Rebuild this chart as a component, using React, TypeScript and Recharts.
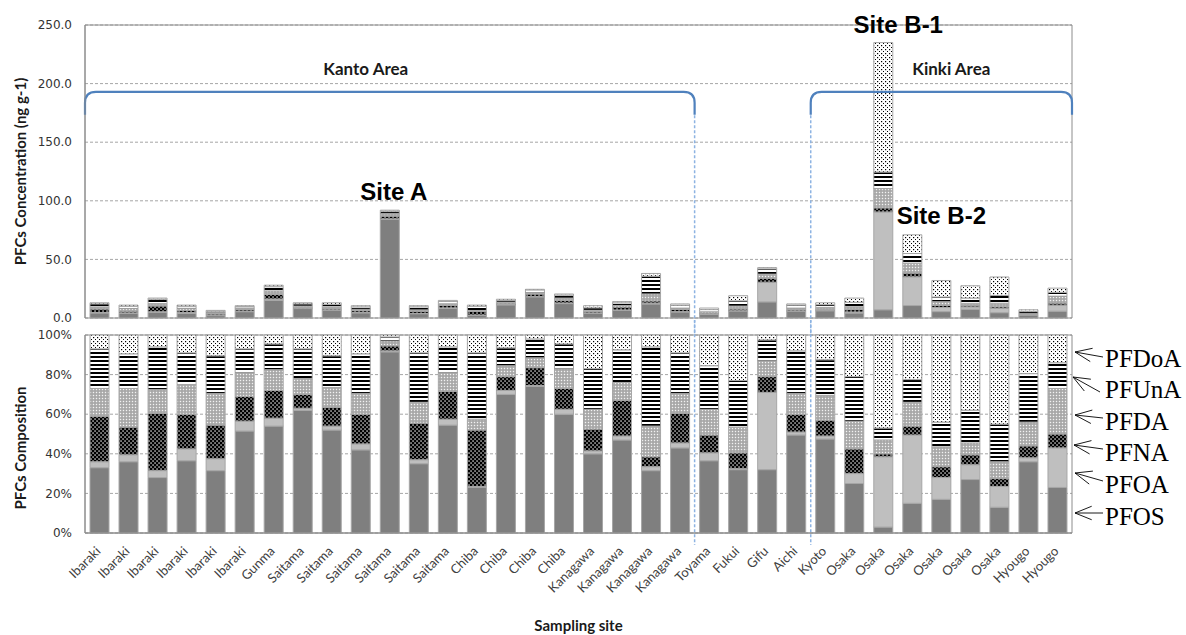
import React from "react";
import {
  BarChart,
  Bar,
  XAxis,
  YAxis,
  CartesianGrid,
  ReferenceLine,
  ReferenceArea,
  LabelList,
} from "recharts";

// sampling sites, left to right
const sites = [
  "Ibaraki", "Ibaraki", "Ibaraki", "Ibaraki", "Ibaraki", "Ibaraki",
  "Gunma",
  "Saitama", "Saitama", "Saitama", "Saitama", "Saitama", "Saitama",
  "Chiba", "Chiba", "Chiba", "Chiba",
  "Kanagawa", "Kanagawa", "Kanagawa", "Kanagawa",
  "Toyama", "Fukui", "Gifu", "Aichi", "Kyoto",
  "Osaka", "Osaka", "Osaka", "Osaka", "Osaka", "Osaka",
  "Hyougo", "Hyougo",
];

// total PFCs concentration per site (ng g-1)
const totalConc = [
  13, 11, 17, 11, 6.5, 10.5, 28, 13, 13, 10.5, 92, 10.5, 15, 11, 16, 24.5, 20.5,
  10.5, 14, 38, 12, 8.5, 19, 43, 12, 13, 17, 235, 71, 32, 27.5, 35, 7, 25.5,
];

// composition of each site (% of total)
const pfosPct = [
  33, 36, 28, 36.5, 31.5, 51.5, 54, 62, 52, 42, 91.5, 35, 54.5, 23, 70, 74, 60,
  40, 47, 31.5, 43, 36.5, 32, 32, 49.5, 47.5, 25, 3, 15, 17, 27, 13, 36, 23,
];
const pfoaPct = [
  3, 3.5, 3.5, 6, 6, 5, 4, 1, 2, 3, 0.5, 2, 3, 0.5, 2, 0.5, 2.5,
  1.5, 2, 2, 2.5, 4, 0.5, 39, 1.5, 1.5, 5, 35.5, 34.5, 11, 7.5, 10.5, 2, 20,
];
const pfnaPct = [
  23, 14, 29, 17.5, 17, 12.5, 14, 7, 9.5, 15, 2.5, 18.5, 14, 28.5, 7, 9, 10.5,
  11, 18, 5, 15, 9, 8, 8, 9, 8, 12.5, 1.5, 4.5, 5.5, 5, 4, 6, 7,
];
const pfdaPct = [
  14, 19.5, 12, 15, 16, 12, 10.5, 8, 10, 10.5, 2.5, 10.5, 9.5, 5.5, 5.5, 5, 10,
  10, 9, 15.5, 10, 13, 13, 8, 10.5, 12.5, 14, 7, 12, 10, 6, 8.5, 12, 23,
];
const pfunaPct = [
  20, 17.5, 21.5, 16, 19, 12, 13, 15, 16, 20, 2, 25, 13, 33.5, 9, 9.5, 12.5,
  20.5, 16.5, 40, 20.5, 22, 23.5, 10.5, 21.5, 18, 22.5, 6, 11.5, 12.5, 16.5, 19, 24.5, 13,
];
const pfdoaPct = [
  7, 9.5, 6, 9, 10.5, 7, 4.5, 7, 10.5, 9.5, 1, 9, 6, 9, 6.5, 2, 4.5,
  17, 7.5, 6, 9, 15.5, 23, 2.5, 8, 12.5, 21, 47, 22.5, 44, 38, 45, 19.5, 14,
];

const siteTags: Record<number, string> = { 10: "Site A", 27: "Site B-1", 28: "Site B-2" };
// regional groups: first and last site index
const areas = [
  { title: "Kanto Area", first: 0, last: 20 },
  { title: "Kinki Area", first: 25, last: 33 },
];
// a dashed divider sits on the left edge of these sites
const dividers = [21, 25];
const concTicks = [0, 50, 100, 150, 200, 250];
const pctTicks = [0, 0.1, 0.2, 0.3, 0.4, 0.5, 0.6, 0.7, 0.8, 0.9, 1];

const components = [
  { key: "pfos", name: "PFOS", pct: pfosPct, fill: "#7f7f7f" },
  { key: "pfoa", name: "PFOA", pct: pfoaPct, fill: "#bfbfbf" },
  { key: "pfna", name: "PFNA", pct: pfnaPct, fill: "url(#pfnaFill)" },
  { key: "pfda", name: "PFDA", pct: pfdaPct, fill: "url(#pfdaFill)" },
  { key: "pfuna", name: "PFUnA", pct: pfunaPct, fill: "url(#pfunaFill)" },
  { key: "pfdoa", name: "PFDoA", pct: pfdoaPct, fill: "url(#pfdoaFill)" },
];

const concData = sites.map((site, i) => {
  const row: any = { id: i, site };
  components.forEach((c) => (row[c.key] = (totalConc[i] * c.pct[i]) / 100));
  return row;
});
const pctData = sites.map((site, i) => {
  const row: any = { id: i, site };
  components.forEach((c) => (row[c.key] = c.pct[i]));
  return row;
});

// --- styling ---
const W = 1186;
const PLOT_RIGHT = 114;
const AXIS_W = 85;
const frame = "#8c8c8c";
const gridColor = "#a6a6a6";
const sepColor = "#8db3e2";
const tickStyle = { fontFamily: "DejaVu Sans", fontSize: 12, fill: "#333" };
const titleFont = "Lato";
const tagOffsets: Record<string, [number, number]> = {
  "Site A": [4, -10],
  "Site B-1": [15, -10],
  "Site B-2": [29, -11],
};
const areaShift: Record<string, number> = { "Kanto Area": -24, "Kinki Area": 10 };

// arrows of the side key: tip and tail points, caption baseline
const keyMarks = [
  { key: "pfdoa", tip: [1075, 352], tail: [1103, 357], base: 367 },
  { key: "pfuna", tip: [1073, 377], tail: [1100, 392], base: 398 },
  { key: "pfda", tip: [1075, 415], tail: [1103, 418], base: 430 },
  { key: "pfna", tip: [1074, 445], tail: [1103, 449], base: 461 },
  { key: "pfoa", tip: [1075, 473], tail: [1103, 481], base: 493 },
  { key: "pfos", tip: [1075, 513], tail: [1103, 513], base: 525 },
];

function Patterns() {
  return (
    <svg width={0} height={0} style={{ position: "absolute" }}>
      <defs>
        <pattern id="pfnaFill" width={4} height={4} patternUnits="userSpaceOnUse">
          <rect width={4} height={4} fill="#000" />
          <rect x={0.4} y={0.4} width={1.3} height={1.3} fill="#fff" />
          <rect x={2.4} y={2.4} width={1.3} height={1.3} fill="#fff" />
        </pattern>
        <pattern id="pfdaFill" width={3} height={3} patternUnits="userSpaceOnUse">
          <rect width={3} height={3} fill="#b4b4b4" />
          <rect x={0} y={0} width={1} height={1} fill="#f2f2f2" />
          <rect x={1.5} y={1.5} width={1} height={1} fill="#858585" />
        </pattern>
        <pattern id="pfunaFill" width={4} height={4} patternUnits="userSpaceOnUse">
          <rect width={4} height={4} fill="#fff" />
          <rect y={0} width={4} height={2} fill="#000" />
        </pattern>
        <pattern id="pfdoaFill" width={4} height={4} patternUnits="userSpaceOnUse">
          <rect width={4} height={4} fill="#fff" />
          <rect x={1} y={1} width={1.2} height={1.2} fill="#000" />
          <rect x={3} y={3} width={1.2} height={1.2} fill="#000" />
        </pattern>
      </defs>
    </svg>
  );
}

const axisTitle = (text: string, shift: number) => (props: any) => {
  const vb = props.viewBox || { x: 0, y: 0, height: 0 };
  const cx = (vb.x || 0) + 20;
  const cy = vb.y + vb.height / 2 + shift;
  return (
    <text
      x={cx}
      y={cy}
      transform={`rotate(-90 ${cx} ${cy})`}
      textAnchor="middle"
      dominantBaseline="central"
      fontFamily={titleFont}
      fontWeight="bold"
      fontSize={15}
      fill="#1a1a1a"
    >
      {text}
    </text>
  );
};

// curly bracket spanning a regional group; the segment runs between the
// centres of its first and last site, so it is widened by half a band each side
const braceShape = (title: string, sitesSpanned: number) => (props: any) => {
  const { x1: c1, x2: c2, y1 } = props;
  const half = sitesSpanned > 0 ? (c2 - c1) / sitesSpanned / 2 : 0;
  const x1 = c1 - half;
  const x2 = c2 + half;
  const drop = 23;
  const r = 11;
  const d = `M${x1},${y1 + drop} L${x1},${y1 + r} Q${x1},${y1} ${x1 + r},${y1} L${x2 - r},${y1} Q${x2},${y1} ${x2},${y1 + r} L${x2},${y1 + drop}`;
  return (
    <g>
      <path d={d} fill="none" stroke="#4f81bd" strokeWidth={2.2} />
      <text
        x={(x1 + x2) / 2 + areaShift[title]}
        y={y1 - 17}
        textAnchor="middle"
        fontFamily={titleFont}
        fontWeight="bold"
        fontSize={17}
        fill="#1a1a1a"
      >
        {title}
      </text>
    </g>
  );
};

// divider line drawn half a band left of its site's centre
const dividerShape = (band: number) => (props: any) => {
  const { x1, y1, y2 } = props;
  const x = x1 - band / 2;
  return (
    <line
      x1={x}
      x2={x}
      y1={y1}
      y2={y2}
      stroke={sepColor}
      strokeWidth={1.5}
      strokeDasharray="3 2"
    />
  );
};

const siteTag = (props: any) => {
  const { x, y, width, index } = props;
  const tag = siteTags[index];
  if (!tag) return null;
  const [dx, dy] = tagOffsets[tag];
  return (
    <text
      x={x + width / 2 + dx}
      y={y + dy}
      textAnchor="middle"
      fontFamily="Liberation Sans"
      fontWeight="bold"
      fontSize={24}
      fill="#000"
    >
      {tag}
    </text>
  );
};

const SiteTick = (props: any) => {
  const { x, y, payload } = props;
  const ax = x + 2;
  const ay = y + 11;
  return (
    <text
      x={ax}
      y={ay}
      transform={`rotate(-45 ${ax} ${ay})`}
      textAnchor="end"
      fontFamily="Lato"
      fontSize={13}
      fill="#404040"
    >
      {sites[payload.value]}
    </text>
  );
};

function KeyOverlay() {
  return (
    <svg width={W} height={635} style={{ position: "absolute", left: 0, top: 0, pointerEvents: "none" }}>
      {keyMarks.map((m) => {
        const comp = components.find((c) => c.key === m.key)!;
        const [tx, ty] = m.tip;
        const [ex, ey] = m.tail;
        const len = Math.hypot(ex - tx, ey - ty);
        const ux = (ex - tx) / len;
        const uy = (ey - ty) / len;
        const arm = (deg: number) => {
          const a = (deg * Math.PI) / 180;
          const vx = ux * Math.cos(a) - uy * Math.sin(a);
          const vy = ux * Math.sin(a) + uy * Math.cos(a);
          return `${tx + vx * 18},${ty + vy * 18}`;
        };
        return (
          <g key={m.key}>
            <path
              d={`M${arm(-22)} L${tx},${ty} L${arm(22)} M${tx},${ty} L${ex},${ey}`}
              fill="none"
              stroke="#000"
              strokeWidth={0.9}
            />
            <text x={1105} y={m.base} fontFamily="Liberation Serif" fontSize={25} fill="#000">
              {comp.name}
            </text>
          </g>
        );
      })}
    </svg>
  );
}

export default function App() {
  const band = (W - PLOT_RIGHT - AXIS_W) / sites.length;
  return (
    <div style={{ position: "absolute", left: 0, top: 0, width: W, height: 635, background: "#fff" }}>
      <Patterns />
      {/* upper panel: concentrations */}
      <div style={{ position: "absolute", left: 0, top: 0 }}>
        <BarChart
          width={W}
          height={335}
          data={concData}
          margin={{ top: 25, right: PLOT_RIGHT, bottom: 17, left: 0 }}
          barSize={19}
        >
          <CartesianGrid xAxisId="cat" vertical={false} stroke={gridColor} strokeDasharray="3 2" />
          <XAxis xAxisId="cat" dataKey="id" type="category" hide />
          <YAxis
            width={AXIS_W}
            domain={[0, 250]}
            ticks={concTicks}
            tickFormatter={(v: number) => v.toFixed(1)}
            tick={tickStyle}
            tickLine={false}
            tickMargin={7}
            axisLine={{ stroke: frame }}
            label={{ content: axisTitle("PFCs Concentration (ng g-1)", 0) }}
          />
          <ReferenceArea
            xAxisId="cat"
            y1={0}
            y2={250}
            fill="none"
            stroke={frame}
            ifOverflow="visible"
          />
          {components.map((c, idx) => (
            <Bar
              key={c.key}
              xAxisId="cat"
              dataKey={c.key}
              name={c.name}
              stackId="a"
              fill={c.fill}
              stroke="#a6a6a6"
              strokeWidth={1}
              isAnimationActive={false}
            >
              {idx === components.length - 1 && <LabelList dataKey={c.key} content={siteTag} />}
            </Bar>
          ))}
          {areas.map((a) => (
            <ReferenceLine
              key={a.title}
              xAxisId="cat"
              segment={[
                { x: a.first, y: 193 },
                { x: a.last, y: 193 },
              ]}
              ifOverflow="visible"
              shape={braceShape(a.title, a.last - a.first)}
            />
          ))}
          {dividers.map((x) => (
            <ReferenceLine
              key={x}
              xAxisId="cat"
              segment={[
                { x, y: 173 },
                { x, y: -15 },
              ]}
              ifOverflow="visible"
              shape={dividerShape(band)}
            />
          ))}
        </BarChart>
      </div>
      {/* lower panel: composition */}
      <div style={{ position: "absolute", left: 0, top: 320 }}>
        <BarChart
          width={W}
          height={315}
          data={pctData}
          stackOffset="expand"
          margin={{ top: 15, right: PLOT_RIGHT, bottom: 0, left: 0 }}
          barSize={19}
        >
          <CartesianGrid xAxisId="cat" vertical={false} stroke={gridColor} strokeDasharray="3 2" />
          <XAxis
            xAxisId="cat"
            dataKey="id"
            type="category"
            interval={0}
            height={102}
            tickLine={false}
            axisLine={{ stroke: frame }}
            tick={<SiteTick />}
            label={{
              value: "Sampling site",
              position: "insideBottom",
              offset: 4,
              style: { fontFamily: titleFont, fontWeight: "bold", fontSize: 15, fill: "#1a1a1a" },
            }}
          />
          <YAxis
            width={AXIS_W}
            domain={[0, 1]}
            ticks={pctTicks}
            tickFormatter={(v: number) => `${Math.round(v * 100)}%`}
            tick={tickStyle}
            tickLine={false}
            tickMargin={7}
            axisLine={{ stroke: frame }}
            label={{ content: axisTitle("PFCs Composition", 14) }}
          />
          <ReferenceArea
            xAxisId="cat"
            y1={0}
            y2={1}
            fill="none"
            stroke={frame}
            ifOverflow="visible"
          />
          {components.map((c) => (
            <Bar
              key={c.key}
              xAxisId="cat"
              dataKey={c.key}
              name={c.name}
              stackId="a"
              fill={c.fill}
              stroke="#a6a6a6"
              strokeWidth={1}
              isAnimationActive={false}
            />
          ))}
          {dividers.map((x) => (
            <ReferenceLine
              key={x}
              xAxisId="cat"
              segment={[
                { x, y: 1.08 },
                { x, y: -0.06 },
              ]}
              ifOverflow="visible"
              shape={dividerShape(band)}
            />
          ))}
        </BarChart>
      </div>
      <KeyOverlay />
    </div>
  );
}
